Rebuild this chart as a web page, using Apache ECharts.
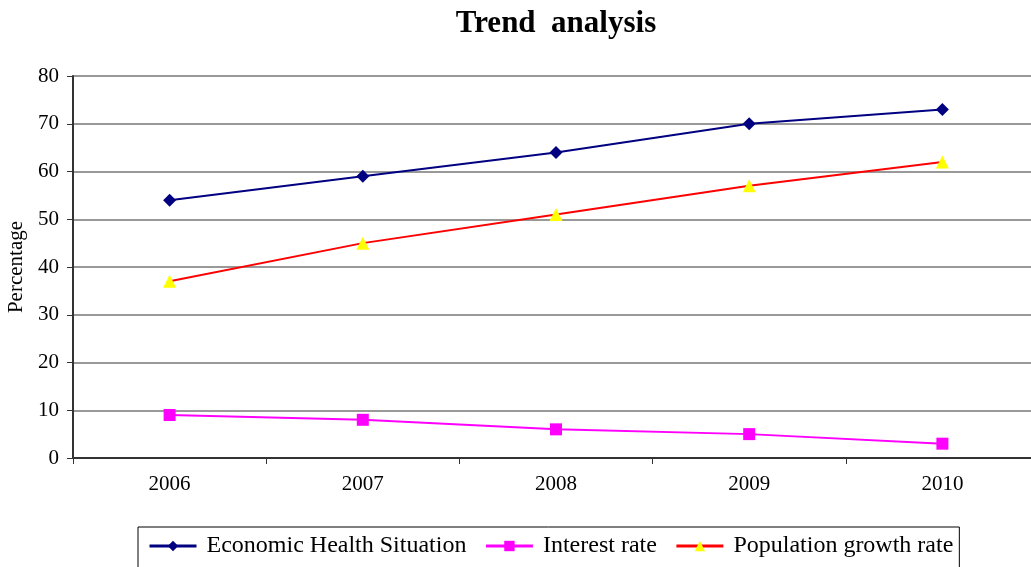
<!DOCTYPE html>
<html>
<head>
<meta charset="utf-8">
<script src="https://cdn.jsdelivr.net/npm/echarts@6/dist/echarts.min.js"></script>
<style>
  html, body { margin: 0; padding: 0; background: #fff; }
  #main { width: 1031px; height: 567px; }
</style>
</head>
<body>
<div id="main"></div>
<script>
const years = ['2006', '2007', '2008', '2009', '2010'];
const economicHealth = [54, 59, 64, 70, 73];
const interestRate = [9, 8, 6, 5, 3];
const populationGrowth = [37, 45, 51, 57, 62];

const font = '"Liberation Serif", "Times New Roman", serif';

let chart = echarts.init(document.getElementById('main'));
let option = {
    backgroundColor: '#fff',
    textStyle: { fontFamily: font },
    title: {
        text: 'Trend  analysis',
        left: 551,
        textAlign: 'center',
        top: 3,
        textStyle: { fontFamily: font, fontSize: 31, fontWeight: 'bold', color: '#000' }
    },
    grid: { left: 73, top: 76, width: 966, bottom: 109, containLabel: false, outerBoundsMode: 'none' },
    legend: {
        left: 138,
        top: 527,
        height: 46,
        padding: [7, 6, 10, 10],
        borderColor: '#000',
        borderWidth: 1,
        itemWidth: 47,
        itemHeight: 13,
        itemGap: 18,
        lineStyle: { width: 3 },
        textStyle: { fontFamily: font, fontSize: 24, color: '#000', padding: [0, 0, 0, 5] },
        data: ['Economic Health Situation', 'Interest rate', 'Population growth rate']
    },
    xAxis: {
        type: 'category',
        data: years,
        boundaryGap: true,
        axisLine: { lineStyle: { color: '#333', width: 2 } },
        axisTick: { show: true, length: 6, lineStyle: { color: '#333' } },
        axisLabel: { fontFamily: font, fontSize: 21, color: '#000', margin: 16 }
    },
    yAxis: {
        type: 'value',
        min: 0,
        max: 80,
        interval: 10,
        name: 'Percentage',
        nameLocation: 'middle',
        nameGap: 43,
        nameTextStyle: { fontFamily: font, fontSize: 21, color: '#000' },
        axisLine: { show: true, lineStyle: { color: '#333', width: 2 } },
        axisTick: { show: true, length: 6, lineStyle: { color: '#333' } },
        axisLabel: { fontFamily: font, fontSize: 21, color: '#000', margin: 14 },
        splitLine: { lineStyle: { color: '#777', width: 1.5 } }
    },
    series: [
        {
            name: 'Economic Health Situation',
            type: 'line',
            data: economicHealth,
            symbol: 'diamond',
            symbolSize: 13,
            color: '#000080',
            lineStyle: { width: 2, color: '#000080' },
            itemStyle: { color: '#000080' }
        },
        {
            name: 'Interest rate',
            type: 'line',
            data: interestRate,
            symbol: 'rect',
            symbolSize: 12,
            color: '#ff00ff',
            lineStyle: { width: 2, color: '#ff00ff' },
            itemStyle: { color: '#ff00ff' }
        },
        {
            name: 'Population growth rate',
            type: 'line',
            data: populationGrowth,
            symbol: 'triangle',
            symbolSize: 13,
            color: '#ff0000',
            lineStyle: { width: 2, color: '#ff0000' },
            itemStyle: { color: '#ffff00' }
        }
    ]
};
chart.setOption(option);
window.addEventListener('resize', function () {
    chart.resize();
});
</script>
</body>
</html>
